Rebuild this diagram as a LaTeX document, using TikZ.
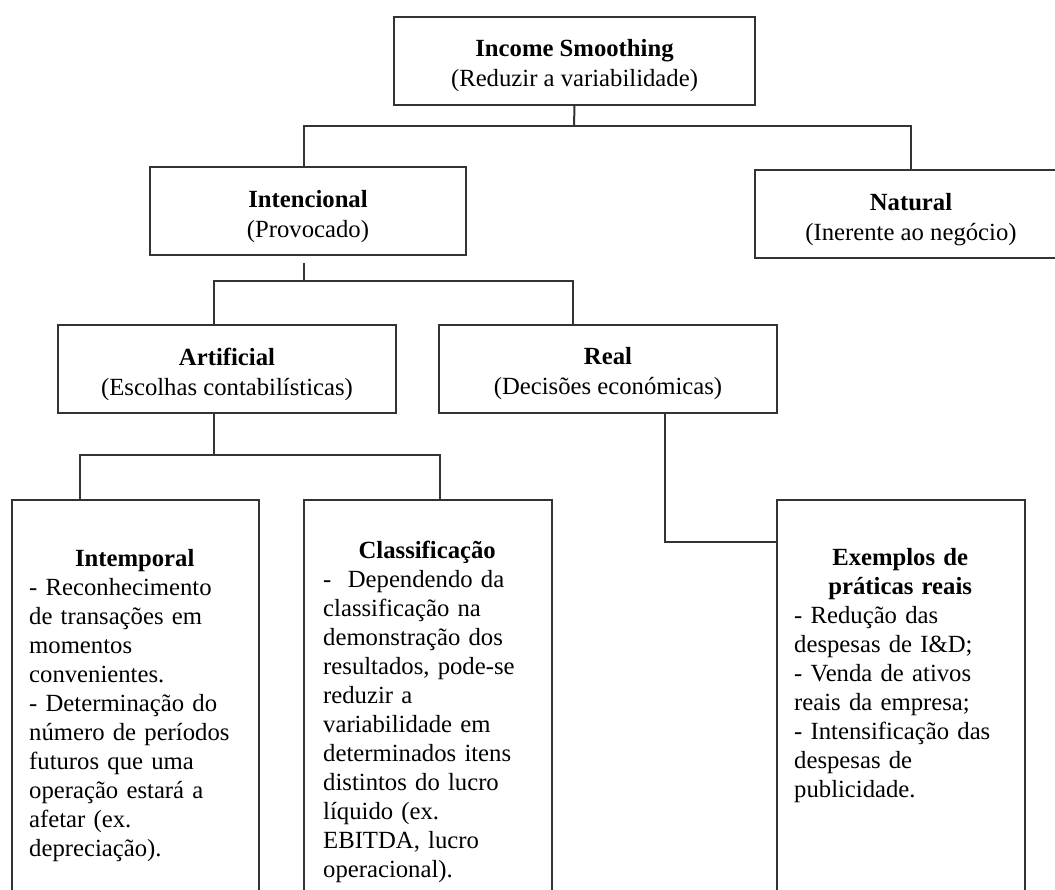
\documentclass[tikz,border=0pt]{standalone}
\usepackage{fontspec}
\setmainfont{Liberation Serif}
\usetikzlibrary{positioning, calc}
\setlength{\parindent}{0pt}
\newcommand{\boxstrut}{\rule{0pt}{28pt}}
\tikzset{
   mybox/.style={draw=black!80, line width=2pt, minimum height=88pt, inner sep=0pt, align=center, font=\fontsize{24.7}{30}\selectfont},
   mytall/.style={draw=black!80, line width=2pt, anchor=north, minimum height=500pt, inner sep=0pt},
   mytext/.style={inner sep=0pt, align=left, font=\fontsize{24.7}{29}\selectfont},
   myline/.style={draw=black!80, line width=2pt}
}

\begin{document}
\begin{tikzpicture}[x=1pt, y=-1pt]
      \useasboundingbox (0,0) rectangle (1055,889);
      \clip (0,0) rectangle (1055,889);

      \node[mybox, minimum width=361pt] (smooth) at (574.5,60.5) {\boxstrut\textbf{Income Smoothing}\\(Reduzir a variabilidade)};
      \node[mybox, minimum width=316pt] (intenc) at (308,211) {\boxstrut\textbf{Intencional}\\(Provocado)};
      \node[mybox, minimum width=312pt] (natural) at (911,214) {\boxstrut\textbf{Natural}\\(Inerente ao negócio)};
      \node[mybox, minimum width=338pt] (artif) at (227,369) {\boxstrut\textbf{Artificial}\\(Escolhas contabilísticas)};
      \node[mybox, minimum width=338pt] (real) at (608,368.5) {\boxstrut\textbf{Real}\\(Decisões económicas)};

      \node[mytall, minimum width=247pt] (intemp) at (135.5,499) {};
      \node[mytall, minimum width=248pt] (classif) at (428,499) {};
      \node[mytall, minimum width=248pt] (exempl) at (901,499) {};

      \node[mytext, text width=211pt, below right=46.7pt and 18pt of intemp.north west] (intempTxt) {%
        {\centering\strut\textbf{Intemporal}\par}
        - Reconhecimento\\ de transações em\\ momentos\\ convenientes.\\ - Determinação do\\ número de períodos\\ futuros que uma\\ operação estará a\\ afetar (ex.\\ depreciação).};
      \node[mytext, text width=208pt, below right=38.7pt and 20pt of classif.north west] (classifTxt) {%
        {\centering\strut\textbf{Classificação}\par}
        - \ Dependendo da\\ classificação na\\ demonstração dos\\ resultados, pode-se\\ reduzir a\\ variabilidade em\\ determinados itens\\ distintos do lucro\\ líquido (ex.\\ EBITDA, lucro\\ operacional).};
      \node[mytext, text width=212pt, below right=45.7pt and 18pt of exempl.north west] (exemplTxt) {%
        {\centering\strut\textbf{Exemplos de}\\\textbf{práticas reais}\par}
        - Redução das\\ despesas de I\&D;\\ - Venda de ativos\\ reais da empresa;\\ - Intensificação das\\ despesas de\\ publicidade.};

      \coordinate (j1) at (574,126);
      \coordinate (j2) at (304,281);
      \coordinate (j3) at (214,455);
      \coordinate (j4) at (665,542);

      \draw[myline] (smooth.south) -- (j1);
      \draw[myline] ([xshift=-4pt]intenc.north) |- (j1) -| (natural.north);
      \draw[myline, shorten <=7pt] ([xshift=-4pt]intenc.south) -- (j2);
      \draw[myline] ([xshift=-13pt]artif.north) |- (j2) -| ([xshift=-35pt]real.north);
      \draw[myline] ([xshift=-13pt]artif.south) -- (j3);
      \draw[myline] ([xshift=-55.5pt]intemp.north) |- (j3) -| ([xshift=12pt]classif.north);
      \draw[myline] ([xshift=57pt]real.south) -- (j4) -- (j4 -| exempl.west);
\end{tikzpicture}
\end{document}
